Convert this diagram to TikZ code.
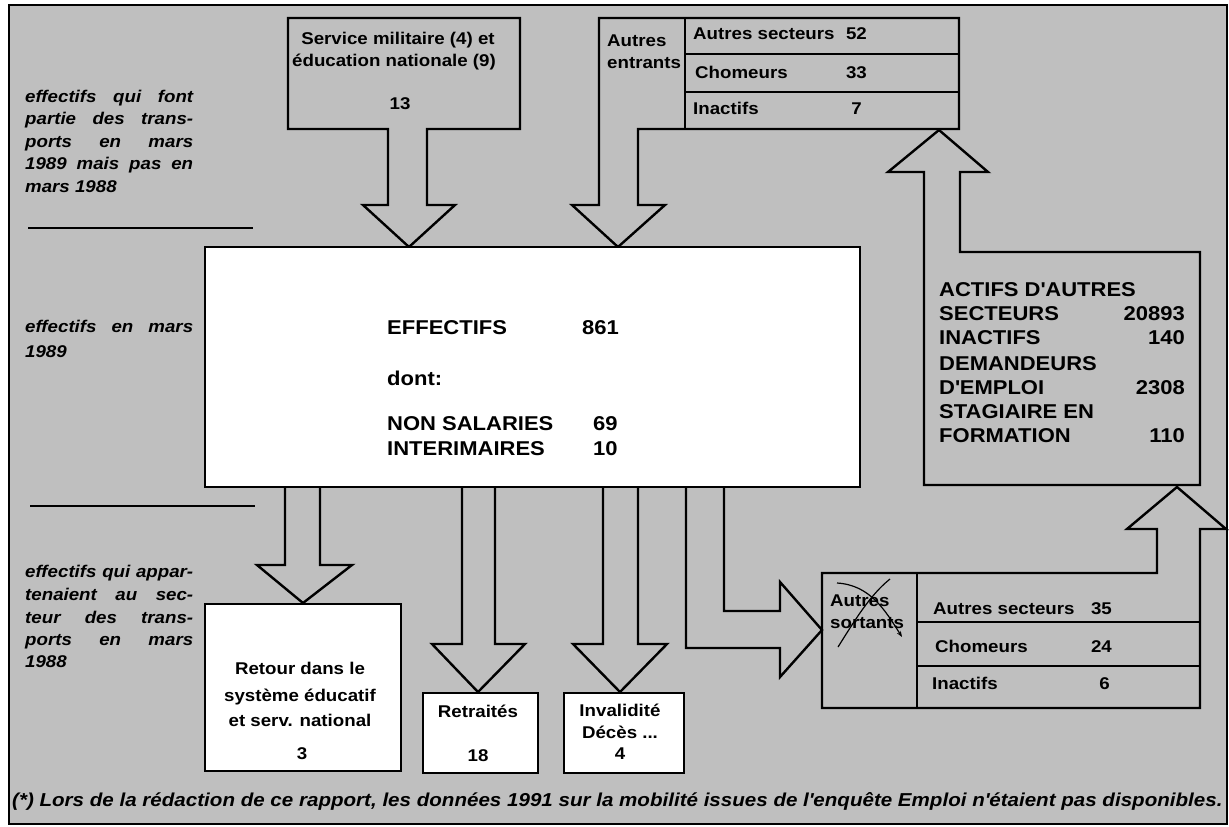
\documentclass[tikz,border=0pt]{standalone}
\usepackage{fontspec}
\setmainfont{Liberation Sans}[FakeStretch=1.1]
\usetikzlibrary{arrows.meta}
\definecolor{bg}{gray}{0.75}
\begin{document}
\begin{tikzpicture}[x=1pt,y=-1pt,
  line/.style={line width=2.4pt, line join=miter},
  gshape/.style={line, draw=black, fill=bg},
  wshape/.style={line, draw=black, fill=white, inner sep=0pt},
  t/.style={inner sep=0pt, font=\fontsize{17}{20}\selectfont\bfseries},
  tl/.style={t, anchor=base west},
  tc/.style={t, anchor=base},
  tr/.style={t, anchor=base east},
  bigl/.style={tl, font=\fontsize{20}{24}\selectfont\bfseries},
  bigr/.style={tr, font=\fontsize{20}{24}\selectfont\bfseries},
  it/.style={inner sep=0pt, anchor=base west, font=\fontsize{17}{20}\selectfont\bfseries\itshape},
  sep/.style={line width=1.6pt}]
\useasboundingbox (0,0) rectangle (1229,827);
\path[fill=white] (0,0) rectangle (1229,827);
% frame
\draw[line width=2.5pt, fill=bg] (9,5) rectangle (1227,824);
% separators
\draw[sep] (28,228) -- (253,228);
\draw[sep] (30,506) -- (255,506);
% Service box with arrow
\draw[gshape] (288,18) -- (520,18) -- (520,129) -- (427,129) -- (427,205) -- (455,205) -- (409,247) -- (363,205) -- (388,205) -- (388,129) -- (288,129) -- cycle;
% Autres entrants table with arrow
\draw[gshape] (599,18) -- (959,18) -- (959,129) -- (638,129) -- (638,205) -- (665,205) -- (618,247) -- (572,205) -- (599,205) -- cycle;
\draw[line] (685,18) -- (685,129) (685,54) -- (959,54) (685,92) -- (959,92);
% ACTIFS box with up arrow
\draw[gshape] (924,485) -- (924,172) -- (888,172) -- (939,130) -- (988,172) -- (960,172) -- (960,252) -- (1200,252) -- (1200,485) -- cycle;
% Autres sortants table with up arrow
\draw[gshape] (822,573) -- (1157,573) -- (1157,529) -- (1127,529) -- (1177,487) -- (1226,529) -- (1200,529) -- (1200,708) -- (822,708) -- cycle;
\draw[line] (917,573) -- (917,708) (917,622) -- (1200,622) (917,666) -- (1200,666);
% bottom arrows
\draw[gshape] (285,486) -- (285,565) -- (257,565) -- (303,603) -- (352,565) -- (320,565) -- (320,486) -- cycle;
\draw[gshape] (462,486) -- (462,644) -- (432,644) -- (478,692) -- (525,644) -- (495,644) -- (495,486) -- cycle;
\draw[gshape] (603,486) -- (603,644) -- (573,644) -- (620,692) -- (667,644) -- (638,644) -- (638,486) -- cycle;
\draw[gshape] (686,486) -- (686,648) -- (780,648) -- (780,677) -- (822,630) -- (780,582) -- (780,611) -- (724,611) -- (724,486) -- cycle;
% white boxes
\node[wshape, anchor=north west, minimum width=655pt, minimum height=240pt] (main) at (204,246) {};
\node[wshape, anchor=north west, minimum width=196pt, minimum height=167pt] (retour) at (204,603) {};
\node[wshape, anchor=north west, minimum width=115pt, minimum height=80pt] (retr) at (422,692) {};
\node[wshape, anchor=north west, minimum width=120pt, minimum height=80pt] (inval) at (563,692) {};
% left italic texts
\node[it] (l1) at (25,102) {\makebox[168pt][s]{effectifs qui font}};
\node[it] (l2) at (25,124.5) {\makebox[168pt][s]{partie des trans-}};
\node[it] (l3) at (25,147) {\makebox[168pt][s]{ports en mars}};
\node[it] (l4) at (25,169.5) {\makebox[168pt][s]{1989 mais pas en}};
\node[it] (l5) at (25,192) {mars 1988};
\node[it] (m1) at (25,332) {\makebox[168pt][s]{effectifs en mars}};
\node[it] (m2) at (25,357) {1989};
\node[it] (b1) at (25,577) {\makebox[168pt][s]{effectifs qui appar-}};
\node[it] (b2) at (25,600) {\makebox[168pt][s]{tenaient au sec-}};
\node[it] (b3) at (25,623) {\makebox[168pt][s]{teur des trans-}};
\node[it] (b4) at (25,645) {\makebox[168pt][s]{ports en mars}};
\node[it] (b5) at (25,667) {1988};
% service texts
\node[tc] (s1) at (398,44) {Service militaire (4) et};
\node[tc] (s2) at (394,66) {éducation nationale (9)};
\node[tc] (s3) at (400,109) {13};
% entrants texts
\node[tl] (e1) at (607,46) {Autres};
\node[tl] (e2) at (607,68) {entrants};
\node[tl] (e3) at (693,39) {Autres secteurs};
\node[tr] (e3n) at (867,39) {52};
\node[tl] (e4) at (695,78) {Chomeurs};
\node[tr] (e4n) at (867,78) {33};
\node[tl] (e5) at (693,114) {Inactifs};
\node[tr] (e5n) at (862,114) {7};
% ACTIFS texts
\node[bigl] (a1) at (939,296) {ACTIFS D\textquotesingle AUTRES};
\node[bigl] (a2) at (939,320) {SECTEURS};
\node[bigr] (a2n) at (1185,320) {20893};
\node[bigl] (a3) at (939,344) {INACTIFS};
\node[bigr] (a3n) at (1185,344) {140};
\node[bigl] (a4) at (939,370) {DEMANDEURS};
\node[bigl] (a5) at (939,394) {D\textquotesingle EMPLOI};
\node[bigr] (a5n) at (1185,394) {2308};
\node[bigl] (a6) at (939,418) {STAGIAIRE EN};
\node[bigl] (a7) at (939,442) {FORMATION};
\node[bigr] (a7n) at (1185,442) {110};
% main texts
\node[bigl] (c1) at (387,334) {EFFECTIFS};
\node[bigl] (c1n) at (582,334) {861};
\node[bigl] (c2) at (387,385) {dont:};
\node[bigl] (c3) at (387,430) {NON SALARIES};
\node[bigl] (c3n) at (593,430) {69};
\node[bigl] (c4) at (387,455) {INTERIMAIRES};
\node[bigl] (c4n) at (593,455) {10};
% bottom boxes texts
\node[tc] (r1) at (300,674) {Retour dans le};
\node[tc] (r2) at (300,701) {système éducatif};
\node[tc] (r3) at (300,726) {et serv. national};
\node[tc] (r4) at (302,759) {3};
\node[tc] (p1) at (478,717) {Retraités};
\node[tc] (p2) at (478,761) {18};
\node[tc] (i1) at (620,716) {Invalidité};
\node[tc] (i2) at (620,738) {Décès ...};
\node[tc] (i3) at (620,759) {4};
% sortants texts
\node[tl] (o1) at (830,606) {Autres};
\node[tl] (o2) at (830,628) {sortants};
\node[tl] (o3) at (933,614) {Autres secteurs};
\node[tr] (o3n) at (1112,614) {35};
\node[tl] (o4) at (935,652) {Chomeurs};
\node[tr] (o4n) at (1112,652) {24};
\node[tl] (o5) at (932,689) {Inactifs};
\node[tr] (o5n) at (1110,689) {6};
% cross-out
\draw[line width=1.2pt] (838,647) .. controls (855,620) and (870,595) .. (890,579);
\draw[line width=1.2pt, -{Stealth[length=6pt]}] (837,583) .. controls (870,585) and (885,610) .. (902,637);
% footer
\node[it, font=\fontsize{18.7}{22}\selectfont\bfseries\itshape] (foot) at (12,806) {(*) Lors de la rédaction de ce rapport, les données 1991 sur la mobilité issues de l\textquotesingle enquête Emploi n\textquotesingle étaient pas disponibles.};
\end{tikzpicture}
\end{document}
